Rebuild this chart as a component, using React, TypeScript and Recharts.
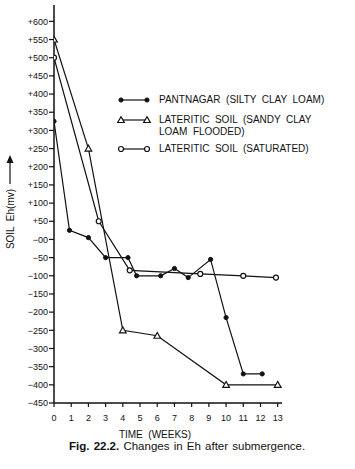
import React from "react";
import { LineChart, Line, XAxis, YAxis } from "recharts";

// Eh (mV) readings against time after submergence (weeks)
const weeksPantnagar = [0, 0.9, 2, 3, 4.3, 4.8, 6.2, 7, 7.8, 9.1, 10, 11, 12.1];
const ehPantnagar = [325, 25, 5, -50, -50, -100, -100, -80, -105, -55, -215, -370, -370];

const weeksFlooded = [0, 2, 4, 6, 10, 13];
const ehFlooded = [550, 250, -250, -265, -400, -400];

const weeksSaturated = [0, 2.6, 4.4, 8.5, 11, 12.9];
const ehSaturated = [500, 50, -85, -95, -100, -105];

const xTicks = [0, 1, 2, 3, 4, 5, 6, 7, 8, 9, 10, 11, 12, 13];
const yTicks = [
  -450, -400, -350, -300, -250, -200, -150, -100, -50, 0, 50, 100, 150, 200, 250,
  300, 350, 400, 450, 500, 550, 600,
];

const toRows = (weeks: number[], eh: number[]) =>
  weeks.map((w, i) => ({ week: w, eh: eh[i] }));

const pantnagar = toRows(weeksPantnagar, ehPantnagar);
const flooded = toRows(weeksFlooded, ehFlooded);
const saturated = toRows(weeksSaturated, ehSaturated);

const INK = "#111";
const FONT = "'Liberation Sans', Arial, sans-serif";

const fmtY = (v: number) => {
  if (v > 0) return `+${v}`;
  if (v === 0) return "\u221200";
  return `\u2212${Math.abs(v)}`;
};

function FilledDot({ cx, cy }: any) {
  return <circle cx={cx} cy={cy} r={2.1} fill={INK} stroke={INK} />;
}

function OpenDot({ cx, cy }: any) {
  return <circle cx={cx} cy={cy} r={2.5} fill="#fff" stroke={INK} strokeWidth={1.2} />;
}

function TriDot({ cx, cy }: any) {
  const s = 3.3;
  return (
    <polygon
      points={`${cx},${cy - s} ${cx - s},${cy + s * 0.75} ${cx + s},${cy + s * 0.75}`}
      fill="#fff"
      stroke={INK}
      strokeWidth={1.2}
    />
  );
}

function LegendRow({ kind, lines, top }: { kind: string; lines: string[]; top: number }) {
  const marker = (x: number) =>
    kind === "filled" ? (
      <FilledDot cx={x} cy={6} />
    ) : kind === "open" ? (
      <OpenDot cx={x} cy={6} />
    ) : (
      <TriDot cx={x} cy={6} />
    );
  return (
    <div style={{ position: "absolute", left: 116, top, display: "flex" }}>
      <svg width={38} height={12} style={{ flex: "none" }}>
        <line x1={5} y1={6} x2={31} y2={6} stroke={INK} strokeWidth={1.2} />
        {marker(5)}
        {marker(31)}
      </svg>
      <div
        style={{
          marginLeft: 5,
          fontSize: 10,
          lineHeight: "12px",
          whiteSpace: "pre",
          color: INK,
        }}
      >
        {lines.join("\n")}
      </div>
    </div>
  );
}

export default function App() {
  return (
    <div
      style={{
        position: "absolute",
        left: 0,
        top: 0,
        width: 355,
        height: 469,
        background: "#fff",
        fontFamily: FONT,
      }}
    >
      <LineChart
        width={355}
        height={469}
        margin={{ top: 5, right: 73, bottom: 36, left: 0 }}
      >
        <XAxis
          type="number"
          dataKey="week"
          domain={[0, 13.25]}
          ticks={xTicks}
          interval={0}
          height={30}
          tickSize={4}
          tickMargin={8}
          axisLine={{ stroke: INK, strokeWidth: 1.5 }}
          tickLine={{ stroke: INK, strokeWidth: 1.2 }}
          tick={{ fill: INK, fontSize: 9, fontFamily: FONT }}
          allowDataOverflow
        />
        <YAxis
          type="number"
          domain={[-450, 645]}
          ticks={yTicks}
          interval={0}
          width={54}
          tickSize={5}
          tickMargin={1}
          tickFormatter={fmtY}
          axisLine={{ stroke: INK, strokeWidth: 1.5 }}
          tickLine={{ stroke: INK, strokeWidth: 1.2 }}
          tick={{ fill: INK, fontSize: 9, fontFamily: FONT }}
          allowDataOverflow
        />
        <Line
          data={pantnagar}
          dataKey="eh"
          type="linear"
          stroke={INK}
          strokeWidth={1.2}
          dot={(p: any) => <FilledDot key={`p${p.index}`} {...p} />}
          isAnimationActive={false}
        />
        <Line
          data={flooded}
          dataKey="eh"
          type="linear"
          stroke={INK}
          strokeWidth={1.2}
          dot={(p: any) => <TriDot key={`f${p.index}`} {...p} />}
          isAnimationActive={false}
        />
        <Line
          data={saturated}
          dataKey="eh"
          type="linear"
          stroke={INK}
          strokeWidth={1.2}
          dot={(p: any) => <OpenDot key={`s${p.index}`} {...p} />}
          isAnimationActive={false}
        />
      </LineChart>

      <LegendRow kind="filled" top={94} lines={["PANTNAGAR  (SILTY  CLAY  LOAM)"]} />
      <LegendRow kind="tri" top={114} lines={["LATERITIC  SOIL  (SANDY  CLAY", "LOAM  FLOODED)"]} />
      <LegendRow kind="open" top={143} lines={["LATERITIC  SOIL  (SATURATED)"]} />

      {/* y axis title */}
      <div
        style={{
          position: "absolute",
          left: 10,
          top: 219,
          transform: "translate(-50%, -50%) rotate(-90deg)",
          fontSize: 10,
          whiteSpace: "pre",
          color: INK,
        }}
      >
        SOIL  Eh(mv)
      </div>
      <svg style={{ position: "absolute", left: 4, top: 155 }} width={12} height={30}>
        <line x1={6} y1={29} x2={6} y2={6} stroke={INK} strokeWidth={1.2} />
        <polygon points="6,0 2.5,8 9.5,8" fill={INK} />
      </svg>

      <div
        style={{
          position: "absolute",
          left: 155,
          top: 434,
          transform: "translate(-50%, -50%)",
          fontSize: 10,
          whiteSpace: "pre",
          color: INK,
        }}
      >
        TIME  (WEEKS)
      </div>
      <div
        style={{
          position: "absolute",
          left: 69,
          top: 446,
          transform: "translateY(-50%)",
          fontSize: 11.5,
          whiteSpace: "pre",
          wordSpacing: 1,
          color: INK,
        }}
      >
        <b>Fig. 22.2.</b> Changes in Eh after submergence.
      </div>
    </div>
  );
}
